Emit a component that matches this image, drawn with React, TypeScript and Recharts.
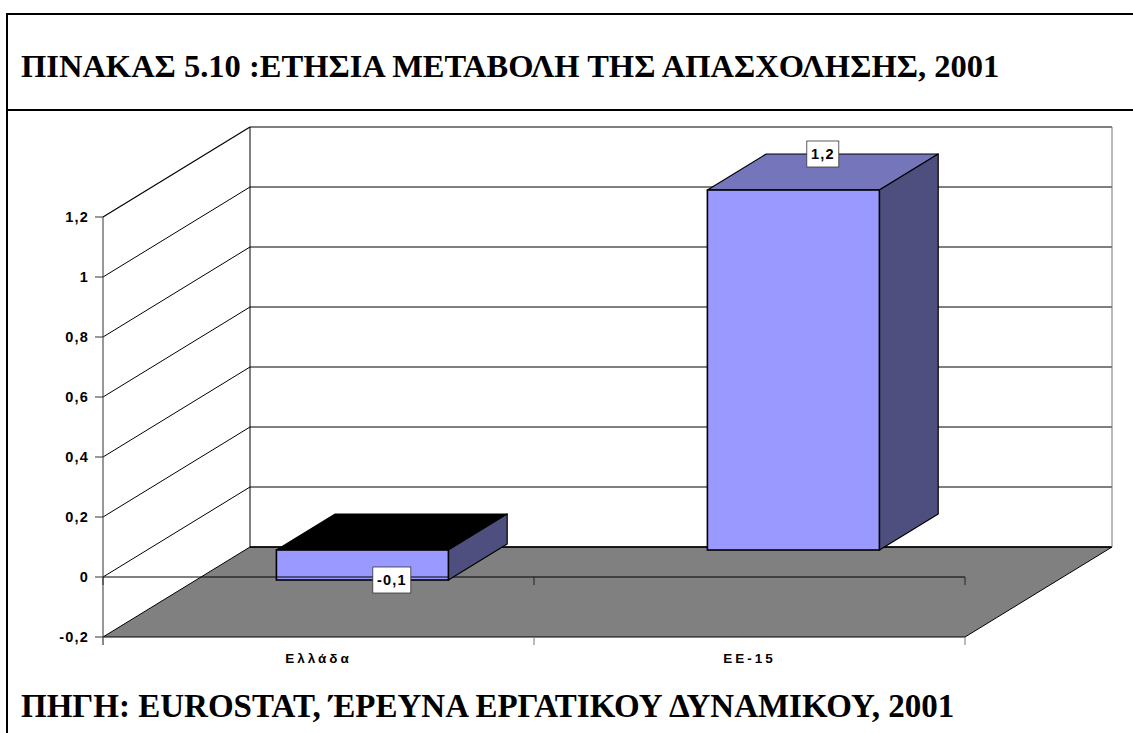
import React from "react";
import { BarChart, Bar, XAxis, YAxis } from "recharts";

const categories = ["Ελλάδα", "ΕΕ-15"];
const seriesValues = [-0.1, 1.2];
const yTicks = [-0.2, 0, 0.2, 0.4, 0.6, 0.8, 1, 1.2];
const titleText = "ΠΙΝΑΚΑΣ 5.10 :ΕΤΗΣΙΑ ΜΕΤΑΒΟΛΗ ΤΗΣ ΑΠΑΣΧΟΛΗΣΗΣ, 2001";
const sourceText = "ΠΗΓΗ: EUROSTAT, ΈΡΕΥΝΑ ΕΡΓΑΤΙΚΟΥ ΔΥΝΑΜΙΚΟΥ, 2001";

const data = categories.map((name, i) => ({ name, value: seriesValues[i] }));

const W = 1133;
const H = 733;
const LEFT = 103;
const RIGHT = 965;
const TOP = 217;
const BOTTOM = 637;
const DX = 147;
const DY = 90;
const FRONT = 0.3;
const BACK = 0.7;
const SANS = "'Liberation Sans', Arial, sans-serif";
const SERIF = "'Liberation Serif', 'Times New Roman', serif";

const YTick = (props: any) => {
  const { x, y, payload } = props;
  const v = payload.value;
  const isMin = v === yTicks[0];
  const isMax = v === yTicks[yTicks.length - 1];
  const band = (RIGHT - LEFT) / categories.length;
  return (
    <g>
      {isMin && (
        <polygon
          points={`${LEFT},${y} ${LEFT + DX},${y - DY} ${RIGHT + DX},${y - DY} ${RIGHT},${y}`}
          fill="#808080"
          stroke="#000"
          strokeWidth={1}
        />
      )}
      {!isMin && (
        <line x1={LEFT} y1={y} x2={LEFT + DX} y2={y - DY} stroke="#000" strokeWidth={isMax ? 1.2 : 1} />
      )}
      <line x1={LEFT + DX} y1={y - DY} x2={RIGHT + DX} y2={y - DY} stroke="#000" strokeWidth={isMin ? 1.5 : 1} />
      {isMax && (
        <>
          <line x1={LEFT + DX} y1={y - DY} x2={LEFT + DX} y2={BOTTOM - DY} stroke="#000" strokeWidth={1} />
          <line x1={RIGHT + DX} y1={y - DY} x2={RIGHT + DX} y2={BOTTOM - DY} stroke="#777" strokeWidth={1} />
          <line x1={LEFT} y1={y} x2={LEFT} y2={BOTTOM + 8} stroke="#333" strokeWidth={1} />
        </>
      )}
      {v === 0 && (
        <>
          <line x1={LEFT} y1={y} x2={RIGHT} y2={y} stroke="#000" strokeWidth={1} />
          {categories.concat("").map((_, i) => (
            <line key={i} x1={LEFT + i * band} y1={y} x2={LEFT + i * band} y2={y + 8} stroke="#222" strokeWidth={1} />
          ))}
        </>
      )}
      <line x1={LEFT - 8} y1={y} x2={LEFT} y2={y} stroke="#333" strokeWidth={1} />
      <text
        x={x - 6}
        y={y + 5}
        textAnchor="end"
        fontFamily={SANS}
        fontWeight="bold"
        fontSize={14.5}
        letterSpacing={1.2}
        fill="#000"
      >
        {String(v).replace(".", ",")}
      </text>
    </g>
  );
};

const XTick = (props: any) => {
  const { x, payload, index } = props;
  const band = (RIGHT - LEFT) / categories.length;
  const edges = index === 0 ? [x - band / 2, x + band / 2] : [x + band / 2];
  return (
    <g>
      {edges.map((ex) => (
        <line key={ex} x1={ex} y1={BOTTOM} x2={ex} y2={BOTTOM + 8} stroke="#777" strokeWidth={1} />
      ))}
      <text
        x={x}
        y={BOTTOM + 26}
        textAnchor="middle"
        fontFamily={SANS}
        fontWeight="bold"
        fontSize={13.5}
        letterSpacing={3}
        fill="#000"
      >
        {payload.value}
      </text>
    </g>
  );
};

const NoBar = () => null;

const Bar3D = (props: any) => {
  const { x, y, width, height, value } = props;
  const v = Array.isArray(value) ? value[1] - value[0] || value[1] : value;
  const yA = Math.min(y, y + height);
  const yB = Math.max(y, y + height);
  const fx = x + FRONT * DX;
  const fy = -FRONT * DY;
  const bx = (BACK - FRONT) * DX;
  const by = (BACK - FRONT) * DY;
  const t = yA + fy;
  const b = yB + fy;
  const l = fx;
  const r = fx + width;
  const neg = v < 0;
  const labelX = l + width / 2 + bx / 2;
  const labelY = neg ? b : t - by;
  const boxW = neg ? 38 : 32;
  const boxH = 26;
  return (
    <g>
      <polygon
        points={`${l},${t} ${r},${t} ${r + bx},${t - by} ${l + bx},${t - by}`}
        fill={neg ? "#000" : "#7575BC"}
        stroke="#000"
        strokeWidth={1.2}
        strokeLinejoin="round"
      />
      <polygon
        points={`${r},${t} ${r + bx},${t - by} ${r + bx},${b - by} ${r},${b}`}
        fill="#4F4F7F"
        stroke="#000"
        strokeWidth={1.2}
        strokeLinejoin="round"
      />
      <rect x={l} y={t} width={width} height={b - t} fill="#9999FF" stroke="#000" strokeWidth={1.6} />
      {neg && <line x1={l} y1={yA} x2={r} y2={yA} stroke="#000" strokeWidth={1} />}
      <rect x={labelX - boxW / 2} y={labelY - boxH / 2} width={boxW} height={boxH} fill="#fff" stroke="#333" strokeWidth={0.8} />
      <text
        x={labelX}
        y={labelY + 5}
        textAnchor="middle"
        fontFamily={SANS}
        fontWeight="bold"
        fontSize={14.5}
        letterSpacing={1.2}
        fill="#000"
      >
        {String(v).replace(".", ",")}
      </text>
    </g>
  );
};

const headingStyle: React.CSSProperties = {
  position: "absolute",
  left: 21,
  fontFamily: SERIF,
  fontWeight: "bold",
  color: "#000",
  whiteSpace: "nowrap",
  lineHeight: "34px",
};

const layerStyle: React.CSSProperties = { position: "absolute", left: 0, top: 0 };

export default function App() {
  const domain = [yTicks[0], yTicks[yTicks.length - 1]];
  return (
    <div style={{ position: "absolute", left: 0, top: 0, width: W, height: H, background: "#fff", overflow: "hidden" }}>
      <div style={{ position: "absolute", left: 6, top: 14, width: 2, height: H - 14, background: "#000" }} />
      <div style={{ position: "absolute", left: 6, top: 13, width: W - 6, height: 2, background: "#000" }} />
      <div style={{ position: "absolute", left: 6, top: 109, width: W - 6, height: 2, background: "#000" }} />
      <div style={{ ...headingStyle, top: 49, fontSize: 32.5 }}>{titleText}</div>
      <div style={{ ...headingStyle, top: 689, fontSize: 33 }}>{sourceText}</div>
      <div style={layerStyle}>
        <BarChart
          width={W}
          height={H}
          data={data}
          margin={{ left: 43, right: W - RIGHT, top: TOP, bottom: H - BOTTOM - 30 }}
        >
          <YAxis
            type="number"
            width={60}
            domain={domain}
            ticks={yTicks}
            interval={0}
            axisLine={false}
            tickLine={false}
            tick={<YTick />}
          />
          <XAxis dataKey="name" height={30} axisLine={false} tickLine={false} tick={<XTick />} interval={0} />
          <Bar dataKey="value" isAnimationActive={false} shape={<NoBar />} />
        </BarChart>
      </div>
      <div style={layerStyle}>
        <BarChart
          width={W}
          height={H}
          data={data}
          margin={{ left: LEFT, right: W - RIGHT, top: TOP, bottom: H - BOTTOM }}
          barCategoryGap="30%"
        >
          <YAxis type="number" hide domain={domain} ticks={yTicks} />
          <XAxis dataKey="name" hide />
          <Bar dataKey="value" isAnimationActive={false} shape={<Bar3D />} />
        </BarChart>
      </div>
    </div>
  );
}
